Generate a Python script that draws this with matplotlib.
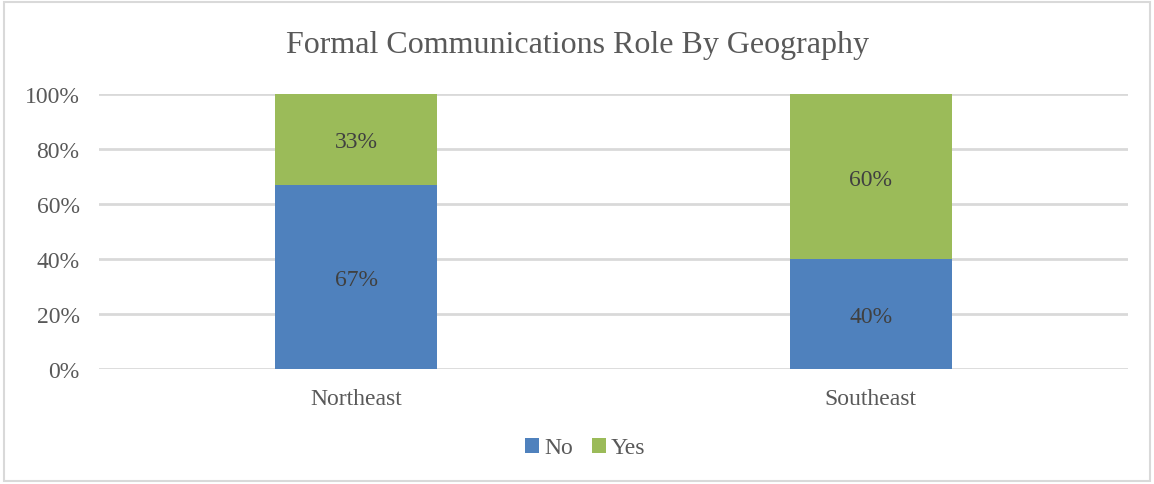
import matplotlib.pyplot as plt
from matplotlib.patches import Rectangle
from matplotlib.ticker import PercentFormatter

regions = ['Northeast', 'Southeast']
no_share = [67, 40]
yes_share = [33, 60]
y_ticks = [0, 20, 40, 60, 80, 100]

BLUE = '#4F81BD'
GREEN = '#9BBB59'
TEXT = '#595959'
GRID = '#D9D9D9'

plt.rcParams['font.family'] = ['Liberation Serif', 'DejaVu Serif']

fig = plt.figure(figsize=(11.54, 4.85), dpi=100)
# light frame round the whole chart
fig.patches.append(Rectangle((4 / 1154, 3 / 485), 1146 / 1154, 479 / 485,
                             transform=fig.transFigure, fill=False,
                             edgecolor='#D9D9D9', linewidth=1.5))

ax = fig.add_axes([99 / 1154, 115 / 485, 1029 / 1154, 275 / 485])
x = list(range(len(regions)))
w = 0.315
ax.bar(x, no_share, w, color=BLUE, label='No', zorder=3)
ax.bar(x, yes_share, w, bottom=no_share, color=GREEN, label='Yes', zorder=3)

for i in x:
    ax.text(i, no_share[i] / 2, f'{no_share[i]}%', ha='center',
            va='center_baseline', fontsize=17, color='#404040', zorder=4)
    ax.text(i, no_share[i] + yes_share[i] / 2, f'{yes_share[i]}%', ha='center',
            va='center_baseline', fontsize=17, color='#404040', zorder=4)

ax.set_xlim(-0.5, 1.5)
ax.set_ylim(0, 100)
ax.set_yticks(y_ticks)
ax.yaxis.set_major_formatter(PercentFormatter(decimals=0))
ax.set_xticks(x)
ax.set_xticklabels(regions)
ax.tick_params(axis='both', length=0, labelsize=17, colors=TEXT)
ax.tick_params(axis='x', pad=14)
ax.tick_params(axis='y', pad=14)
ax.grid(axis='y', color=GRID, linewidth=2, zorder=0)
for s in ax.spines.values():
    s.set_visible(False)

fig.text(0.5, 1 - 45 / 485, 'Formal Communications Role By Geography',
         ha='center', va='center', fontsize=23, color=TEXT)

fig.legend(loc='center', bbox_to_anchor=(0.507, 1 - 449 / 485), ncol=2,
           frameon=False, fontsize=17, handlelength=0.6, handleheight=0.6,
           handletextpad=0.2, columnspacing=0.8, labelcolor=TEXT)

fig.savefig('out.png', dpi=100, facecolor='white')
